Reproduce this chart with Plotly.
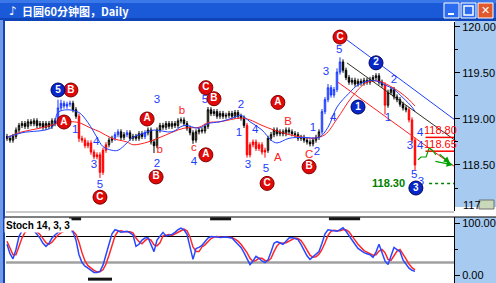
import plotly.graph_objects as go

W, H = 496, 283
def px(x): return x / W
def py(y): return 1 - y / H

# ---------------- data ----------------
CLOSE = [118.79,118.77,118.81,118.88,118.93,118.95,118.92,118.97,118.95,118.98,
         118.93,118.95,118.91,118.95,118.92,118.98,118.95,119.12,119.17,119.14,
         119.16,119.17,119.10,119.03,118.79,118.77,118.71,118.74,118.64,118.59,
         118.61,118.42,118.66,118.72,118.77,118.79,118.83,118.86,118.80,118.83,
         118.85,118.79,118.81,118.79,118.84,118.81,118.85,118.88,118.75,118.71,
         118.88,118.93,118.91,118.95,118.92,118.95,118.93,118.98,118.99,118.95,
         118.90,118.85,118.77,118.86,118.88,118.87,118.92,119.10,119.06,119.08,
         119.03,119.06,119.03,119.04,119.06,119.03,119.07,119.03,119.01,118.93,
         118.61,118.72,118.75,118.68,118.72,118.64,118.66,118.79,118.83,118.88,
         118.84,118.86,118.84,118.88,118.86,118.84,118.83,118.79,118.80,118.77,
         118.75,118.73,118.77,118.80,118.86,119.08,119.21,119.34,119.26,119.32,
         119.51,119.62,119.53,119.45,119.40,119.42,119.38,119.41,119.39,119.42,
         119.40,119.43,119.45,119.47,119.40,119.37,119.15,119.29,119.32,119.24,
         119.21,119.16,119.12,119.10,118.99,118.77,118.50]
HIGH_EXTREME = {17: 119.21, 18: 119.21, 67: 119.13, 107: 119.38, 110: 119.55, 111: 119.67}
LOW_EXTREME = {24: 118.75, 31: 118.36, 49: 118.63, 62: 118.73, 80: 118.58, 86: 118.58,
               126: 119.05, 136: 118.44}
WICK = 0.028
BLUE_BARS = [17,18,19,20,21,36,37,40,46,105,106,107,108,109,110,111]
RED_BARS = [24,25,26,27,28,29,30,31,32,33,80,81,82,83,84,85,86,126,134,135,136]

RED_MA_X = [0,5,11,18,21,24,28,31,35,40,42,47,51,59,64,67,71,78,81,85,89,94,99,102,106,110,115,120,124,127,131,134,136]
RED_MA_Y = [118.80,118.86,118.90,118.96,118.97,118.96,118.90,118.86,118.79,118.75,118.72,118.75,118.80,
            118.90,118.91,118.96,118.97,119.01,118.99,118.93,118.88,118.83,118.80,118.79,118.83,119.00,
            119.24,119.40,119.41,119.37,119.29,119.21,119.14]
BLUE_MA_X = [0,5,15,17,20,24,27,30,32,35,37,40,42,46,49,55,59,64,67,71,76,78,81,85,88,90,94,99,104,107,
             110,114,117,122,126,129,132,135,136]
BLUE_MA_Y = [118.80,118.85,118.91,119.07,119.10,119.07,118.96,118.80,118.70,118.66,118.66,118.74,118.80,
             118.85,118.88,118.86,118.93,118.90,118.95,118.97,119.02,119.04,118.97,118.88,118.77,118.74,
             118.79,118.80,118.80,118.91,119.13,119.28,119.37,119.42,119.37,119.32,119.23,119.13,119.08]

STOCH_K = [60,42,32,50,75,86,88,88,87,86,
           80,72,62,56,62,72,78,83,85,86,
           86,85,84,68,40,25,18,14,10,6,
           6,8,20,38,60,80,88,86,83,84,
           85,82,78,56,60,68,72,73,58,46,
           68,76,83,76,77,79,83,88,91,88,
           79,55,31,52,54,58,66,72,75,75,
           74,73,74,74,73,72,66,60,54,44,
           33,21,28,37,33,28,25,30,45,62,
           65,62,60,66,72,73,71,69,60,48,
           38,31,36,42,46,62,80,88,87,85,
           85,88,92,85,76,69,60,52,48,44,
           42,40,35,45,60,45,28,21,38,54,
           50,46,30,21,14,10,8]
STOCH_D = [66,52,40,40,56,72,83,87,88,87,
           84,79,71,63,60,64,71,78,82,85,
           86,86,85,79,64,44,28,19,14,10,
           7,7,11,22,39,59,76,85,86,84,
           84,84,82,72,65,61,67,71,68,59,
           57,63,76,78,79,77,80,83,87,89,
           86,74,55,46,46,55,59,65,71,74,
           75,74,74,74,74,73,70,66,60,53,
           44,33,27,29,33,33,29,28,33,46,
           57,63,62,63,66,70,72,71,67,59,
           49,39,35,36,41,50,63,77,85,87,
           86,86,88,88,84,77,68,60,53,48,
           45,42,39,40,47,50,44,31,29,38,
           47,50,42,32,22,15,11]
STOCH_LEVELS = [75, 25]
STOCH_FLAGS_TOP = [(20.7, 24.7), (67.7, 74.7), (107.3, 117.7)]
STOCH_FLAGS_BOTTOM = [(27.0, 35.0)]

CIRCLES = [("5","b",17,119.315),("B","r",21.3,119.315),("A","r",19,118.967),("C","r",31,118.15),
           ("A","r",46.7,119.0),("B","r",49.7,118.37),("C","r",66.3,119.34),("B","r",69,119.22),
           ("A","r",66.3,118.61),("A","r",90.3,119.18),("C","r",86.7,118.30),("B","r",100.7,118.48),
           ("C","r",111,119.89),("1","b",117,119.13),("2","b",123,119.61),("3","b",136.3,118.25)]
EDGE_CIRCLES = [(-1.6, 119.17), (-1.6, 118.63)]
BLUE_TEXT = [("1",22.7,118.88),("4",29.7,118.75),("3",29,118.50),("5",31,118.28),("3",50,119.20),
             ("2",50,118.51),("4",62.3,118.53),("5",66,119.20),("2",78,119.15),("1",77.3,118.85),
             ("4",82.7,118.88),("3",80.3,118.50),("5",86.3,118.45),("1",102,118.90),("2",103.3,118.64),
             ("4",108.7,119.01),("3",106.3,119.51),("5",110.7,119.75),("2",129,119.42),("1",127,119.01),
             ("4",137.7,118.85),("4",137.7,118.70),("3",134.3,118.70),("5",135.7,118.39),("3",138,118.31)]
RED_TEXT = [("b",50.9,118.665),("b",58.3,119.08),("c",62.3,118.685),("A",90.3,118.58),
            ("B",93.7,118.97),("C",100.7,118.61)]

TREND_BLUE = ([113.3, 149.3], [119.86, 118.99])
TREND_BLACK = ([113.3, 149.3], [119.61, 118.77])
TREND_RED = ([110.3, 149.3], [119.40, 118.48])
RED_LEVELS = [118.80, 118.65]
GREEN_LEVEL = 118.30
GREEN_PATH_X = [137, 138, 139.7, 140.7, 141.7, 143]
GREEN_PATH_Y = [118.555, 118.587, 118.587, 118.685, 118.663, 118.609]
GREEN_ARROWS = [((142.3, 118.543), (148.7, 118.50)), ((143.7, 118.63), (147.7, 118.52))]

PRICE_TICKS = [118.5, 119.0, 119.5, 120.0]
PRICE_MINOR = [118.25, 118.75, 119.25, 119.75]

# ---------------- build ----------------
N = len(CLOSE)
OPEN = [CLOSE[0] + 0.02] + CLOSE[:-1]
HIGH = [max(o, c) + WICK for o, c in zip(OPEN, CLOSE)]
LOW = [min(o, c) - WICK for o, c in zip(OPEN, CLOSE)]
for k, v in HIGH_EXTREME.items():
    HIGH[k] = max(HIGH[k], v)
for k, v in LOW_EXTREME.items():
    LOW[k] = min(LOW[k], v)

fig = go.Figure()

def candles(idx, inc_line, inc_fill, dec_line, dec_fill):
    fig.add_trace(go.Candlestick(
        x=idx, open=[OPEN[i] for i in idx], high=[HIGH[i] for i in idx],
        low=[LOW[i] for i in idx], close=[CLOSE[i] for i in idx],
        increasing=dict(line=dict(color=inc_line, width=1), fillcolor=inc_fill),
        decreasing=dict(line=dict(color=dec_line, width=1), fillcolor=dec_fill),
        whiskerwidth=0, showlegend=False, hoverinfo="skip", xaxis="x", yaxis="y"))

black_idx = [i for i in range(N) if i not in BLUE_BARS and i not in RED_BARS]
candles(black_idx, "#000000", "#B8B070", "#000000", "#000000")
candles(BLUE_BARS, "#1838FF", "#8098FF", "#1838FF", "#1838FF")
candles(RED_BARS, "#FF0000", "#FF0000", "#FF0000", "#FF0000")

fig.add_trace(go.Scatter(x=RED_MA_X, y=RED_MA_Y, mode="lines", line=dict(color="#FF2020", width=1, shape="spline"),
                         showlegend=False, hoverinfo="skip"))
fig.add_trace(go.Scatter(x=BLUE_MA_X, y=BLUE_MA_Y, mode="lines", line=dict(color="#2040FF", width=1, shape="spline"),
                         showlegend=False, hoverinfo="skip"))

for (tx, ty), col in [(TREND_BLUE, "#2040FF"), (TREND_BLACK, "#303020"), (TREND_RED, "#FF2020")]:
    fig.add_trace(go.Scatter(x=tx, y=ty, mode="lines", line=dict(color=col, width=1),
                             showlegend=False, hoverinfo="skip"))

for lv in RED_LEVELS:
    fig.add_trace(go.Scatter(x=[139.5, 149.3], y=[lv, lv], mode="lines", line=dict(color="#FF0000", width=1.5),
                             showlegend=False, hoverinfo="skip"))
fig.add_trace(go.Scatter(x=[140.7, 149.3], y=[GREEN_LEVEL, GREEN_LEVEL], mode="lines",
                         line=dict(color="#008000", width=1.5, dash="dot"), showlegend=False, hoverinfo="skip"))
fig.add_trace(go.Scatter(x=GREEN_PATH_X, y=GREEN_PATH_Y, mode="lines", line=dict(color="#00A000", width=1.2),
                         showlegend=False, hoverinfo="skip"))

# text labels
fig.add_trace(go.Scatter(x=[t[1] for t in BLUE_TEXT], y=[t[2] for t in BLUE_TEXT], text=[t[0] for t in BLUE_TEXT],
                         mode="text", textfont=dict(color="#1a3cff", size=11.5, family="Liberation Sans"),
                         showlegend=False, hoverinfo="skip", cliponaxis=False))
fig.add_trace(go.Scatter(x=[t[1] for t in RED_TEXT], y=[t[2] for t in RED_TEXT], text=[t[0] for t in RED_TEXT],
                         mode="text", textfont=dict(color="#ff2020", size=11.5, family="Liberation Sans"),
                         showlegend=False, hoverinfo="skip", cliponaxis=False))
for kind, fill, edge in [("r", "#E00808", "#800000"), ("b", "#0828C8", "#000060")]:
    sel = [c for c in CIRCLES if c[1] == kind]
    fig.add_trace(go.Scatter(x=[c[2] for c in sel], y=[c[3] for c in sel], text=["<b>%s</b>" % c[0] for c in sel],
                             mode="markers+text", textposition="middle center",
                             marker=dict(size=14, color=fill, line=dict(color=edge, width=1)),
                             textfont=dict(color="white", size=10, family="Liberation Sans"),
                             showlegend=False, hoverinfo="skip", cliponaxis=False))
fig.add_trace(go.Scatter(x=[c[0] for c in EDGE_CIRCLES], y=[c[1] for c in EDGE_CIRCLES], mode="markers",
                         marker=dict(size=14, color="#0828C8"), showlegend=False, hoverinfo="skip",
                         cliponaxis=False))

# stochastic
fig.add_trace(go.Scatter(x=list(range(N)), y=STOCH_D, mode="lines", line=dict(color="#FF2828", width=1.5),
                         xaxis="x2", yaxis="y2", showlegend=False, hoverinfo="skip"))
fig.add_trace(go.Scatter(x=list(range(N)), y=STOCH_K, mode="lines", line=dict(color="#2848FF", width=1.5),
                         xaxis="x2", yaxis="y2", showlegend=False, hoverinfo="skip"))

shapes = []
ann = []
# title bar
shapes.append(dict(type="rect", xref="paper", yref="paper", x0=0, x1=1, y0=py(20), y1=1,
                   fillcolor="#1A5AD8", line=dict(width=0), layer="below"))
shapes.append(dict(type="rect", xref="paper", yref="paper", x0=0, x1=1, y0=py(3), y1=1,
                   fillcolor="#3A78EA", line=dict(width=0), layer="below"))
shapes.append(dict(type="rect", xref="paper", yref="paper", x0=0, x1=1, y0=py(21), y1=py(18),
                   fillcolor="#0E44B8", line=dict(width=0), layer="below"))
# left frame
shapes.append(dict(type="rect", xref="paper", yref="paper", x0=0, x1=px(3), y0=0, y1=py(20),
                   fillcolor="#6F9AE8", line=dict(width=0), layer="below"))
shapes.append(dict(type="line", xref="paper", yref="paper", x0=px(4), x1=px(4), y0=0, y1=py(20),
                   line=dict(color="#1840B8", width=2)))
# right axis panels
shapes.append(dict(type="rect", xref="paper", yref="paper", x0=px(455), x1=1, y0=py(207), y1=py(21),
                   fillcolor="#A6CAF0", line=dict(width=0), layer="below"))
shapes.append(dict(type="rect", xref="paper", yref="paper", x0=px(455), x1=1, y0=0, y1=py(217),
                   fillcolor="#A6CAF0", line=dict(width=0), layer="below"))
# separators
shapes.append(dict(type="line", xref="paper", yref="paper", x0=px(6), x1=px(454), y0=py(212), y1=py(212),
                   line=dict(color="#B8B8B8", width=1.5)))
shapes.append(dict(type="line", xref="paper", yref="paper", x0=px(5), x1=1, y0=py(217), y1=py(217),
                   line=dict(color="#000000", width=1)))
# stoch levels
for lv, col, wd in [(STOCH_LEVELS[0], "#000000", 1), (STOCH_LEVELS[1], "#A0A0A0", 2.5)]:
    shapes.append(dict(type="line", xref="paper", yref="y2", x0=px(6), x1=px(454), y0=lv, y1=lv,
                       line=dict(color=col, width=wd), layer="below"))
for a, b in STOCH_FLAGS_TOP:
    shapes.append(dict(type="line", xref="x2", yref="y2", x0=a, x1=b, y0=109, y1=109,
                       line=dict(color="#151515", width=3)))
for a, b in STOCH_FLAGS_BOTTOM:
    shapes.append(dict(type="line", xref="x2", yref="y2", x0=a, x1=b, y0=-7, y1=-7,
                       line=dict(color="#151515", width=3)))
# window buttons
for x0, col in [(444, "#2C6CF0"), (461, "#2C6CF0"), (478, "#E0582C")]:
    shapes.append(dict(type="rect", xref="paper", yref="paper", x0=px(x0), x1=px(x0 + 15), y0=py(18), y1=py(3),
                       fillcolor=col, line=dict(color="white", width=1)))
shapes.append(dict(type="rect", xref="paper", yref="paper", x0=px(448), x1=px(454), y0=py(15), y1=py(13),
                   fillcolor="white", line=dict(width=0)))
shapes.append(dict(type="rect", xref="paper", yref="paper", x0=px(464), x1=px(473), y0=py(15), y1=py(6),
                   fillcolor="rgba(0,0,0,0)", line=dict(color="white", width=1.5)))
ann.append(dict(xref="paper", yref="paper", x=px(485.5), y=py(10.5), text="<b>✕</b>", showarrow=False,
                font=dict(color="white", size=11, family="DejaVu Sans"), xanchor="center", yanchor="middle"))
# small label at bottom of price axis
shapes.append(dict(type="rect", xref="paper", yref="paper", x0=px(479), x1=px(494), y0=py(209), y1=py(200),
                   fillcolor="#C8D8B8", line=dict(color="#707070", width=1)))
ann.append(dict(xref="paper", yref="paper", x=px(461), y=py(205), text="117", showarrow=False,
                font=dict(color="black", size=11, family="Liberation Sans"), xanchor="left", yanchor="middle"))

# title
ann.append(dict(xref="paper", yref="paper", x=px(7), y=py(11), text="<b>♪</b>", showarrow=False,
                font=dict(color="white", size=12, family="DejaVu Sans"), xanchor="left", yanchor="middle"))
ann.append(dict(xref="paper", yref="paper", x=px(20), y=py(11), text="<b>日圆60分钟图，Daily</b>", showarrow=False,
                font=dict(color="white", size=11, family="Noto Sans CJK SC"), xanchor="left", yanchor="middle"))
ann.append(dict(xref="paper", yref="paper", x=px(4), y=py(225), text="<b>Stoch 14, 3, 3</b>", showarrow=False,
                font=dict(color="black", size=10, family="Liberation Sans"), xanchor="left", yanchor="middle",
                bgcolor="white"))
# level labels
for lv in RED_LEVELS:
    ann.append(dict(x=144.4, y=lv, xref="x", yref="y", text="%.2f" % lv, showarrow=False, yanchor="bottom",
                    yshift=-1, font=dict(color="#FF0000", size=11, family="Liberation Sans")))
ann.append(dict(x=133.2, y=GREEN_LEVEL, xref="x", yref="y", text="<b>%.2f</b>" % GREEN_LEVEL, showarrow=False,
                xanchor="right", yanchor="middle", font=dict(color="#008000", size=11, family="Liberation Sans")))
for (x0, y0), (x1, y1) in GREEN_ARROWS:
    ann.append(dict(x=x1, y=y1, ax=x0, ay=y0, xref="x", yref="y", axref="x", ayref="y", text="",
                    showarrow=True, arrowhead=2, arrowsize=1, arrowwidth=1.3, arrowcolor="#00A000"))

fig.update_layout(
    width=W, height=H, margin=dict(l=0, r=0, t=0, b=0),
    paper_bgcolor="white", plot_bgcolor="white", showlegend=False,
    shapes=shapes, annotations=ann,
    xaxis=dict(domain=[px(6), px(454)], range=[-0.33, 149.0], showgrid=False, zeroline=False,
               showticklabels=False, ticks="", rangeslider=dict(visible=False), anchor="y", fixedrange=True),
    xaxis2=dict(domain=[px(6), px(454)], matches="x", showgrid=False, zeroline=False,
                showticklabels=False, ticks="", anchor="y2"),
    yaxis=dict(domain=[py(211), py(22)], range=[118.0, 120.054], side="right", anchor="x",
               showgrid=False, zeroline=False, showline=True, linecolor="black", linewidth=1,
               tickvals=PRICE_TICKS, ticktext=["%.2f" % v for v in PRICE_TICKS],
               ticks="outside", ticklen=5, tickcolor="black", tickwidth=1,
               tickfont=dict(size=11, family="Liberation Sans", color="black"),
               minor=dict(tickvals=PRICE_MINOR, ticks="outside", ticklen=3, tickcolor="black")),
    yaxis2=dict(domain=[0, py(217)], range=[-14.4, 112.5], side="right", anchor="x2",
                showgrid=False, zeroline=False, showline=True, linecolor="black", linewidth=1,
                tickvals=[0, 100], ticktext=["0.00", "100.00"],
                ticks="outside", ticklen=5, tickcolor="black",
                tickfont=dict(size=11, family="Liberation Sans", color="black"),
                minor=dict(tickvals=[50], ticks="outside", ticklen=3, tickcolor="black")),
)

fig.write_html("out.html")
